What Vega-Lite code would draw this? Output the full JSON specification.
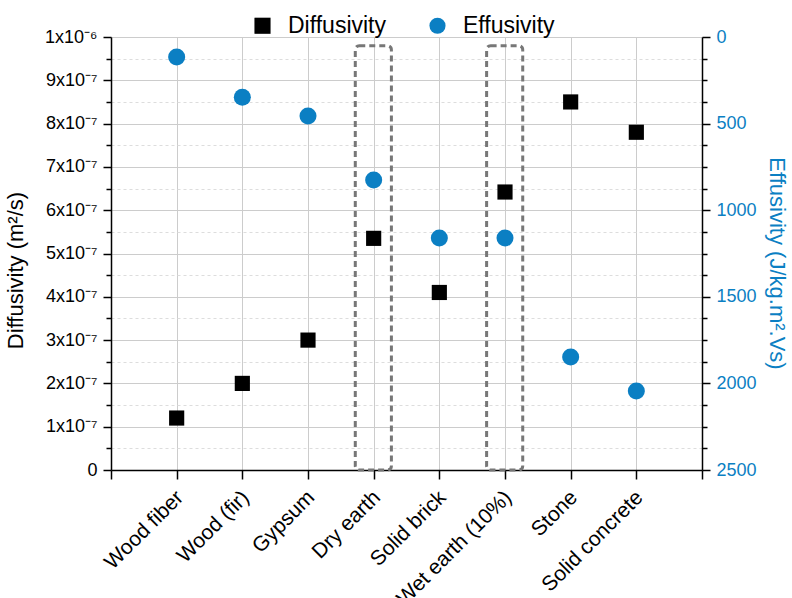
{
  "$schema": "https://vega.github.io/schema/vega-lite/v6.json",
  "width": 591,
  "height": 433,
  "autosize": {"type": "none"},
  "padding": {"left": 111, "top": 37, "right": 90, "bottom": 128},
  "background": "white",
  "config": {
    "font": "Liberation Sans",
    "view": {"stroke": null},
    "axis": {
      "domainColor": "#000000",
      "domainWidth": 1.5,
      "tickColor": "#000000",
      "tickWidth": 1.5,
      "labelFontSize": 18,
      "labelColor": "#000000",
      "titleFontSize": 22,
      "titleFontWeight": "normal",
      "titleColor": "#000000"
    }
  },
  "datasets": {
    "materials": [
      {"material": "Wood fiber", "idx": 1, "diffusivity": 1.2e-7, "effusivity": 115},
      {"material": "Wood (fir)", "idx": 2, "diffusivity": 2.0e-7, "effusivity": 348},
      {"material": "Gypsum", "idx": 3, "diffusivity": 3.0e-7, "effusivity": 456},
      {"material": "Dry earth", "idx": 4, "diffusivity": 5.35e-7, "effusivity": 826},
      {"material": "Solid brick", "idx": 5, "diffusivity": 4.1e-7, "effusivity": 1160},
      {"material": "Wet earth (10%)", "idx": 6, "diffusivity": 6.42e-7, "effusivity": 1160},
      {"material": "Stone", "idx": 7, "diffusivity": 8.5e-7, "effusivity": 1848},
      {"material": "Solid concrete", "idx": 8, "diffusivity": 7.8e-7, "effusivity": 2044}
    ],
    "boxes": [
      {"from": 3.72, "to": 4.27, "low": 0, "high": 9.8e-7},
      {"from": 5.72, "to": 6.27, "low": 0, "high": 9.8e-7}
    ]
  },
  "layer": [
    {
      "data": {"name": "boxes"},
      "mark": {"type": "rect", "fill": "transparent", "stroke": "#777777", "strokeWidth": 3, "strokeDash": [6, 4], "cornerRadius": 4},
      "encoding": {
        "x": {"field": "from", "type": "quantitative", "title": null, "scale": {"domain": [0, 9], "nice": false, "zero": false}},
        "x2": {"field": "to"},
        "y": {"field": "low", "type": "quantitative", "scale": {"domain": [0, 1e-6], "nice": false}, "axis": null},
        "y2": {"field": "high"}
      }
    },
    {
      "data": {"name": "materials"},
      "mark": {"type": "point", "filled": true, "size": 230, "opacity": 1},
      "encoding": {
        "x": {
          "field": "idx", "type": "quantitative", "title": null,
          "scale": {"domain": [0, 9], "nice": false, "zero": false},
          "axis": {
            "title": null,
            "values": [0, 0.5, 1, 1.5, 2, 2.5, 3, 3.5, 4, 4.5, 5, 5.5, 6, 6.5, 7, 7.5, 8, 8.5, 9],
            "grid": true,
            "gridColor": {"condition": {"test": "datum.value % 1 != 0", "value": "#dddddd"}, "value": "#cccccc"},
            "gridDash": {"condition": {"test": "datum.value % 1 != 0", "value": [3, 3]}, "value": []},
            "gridWidth": 1,
            "tickSize": {"condition": {"test": "datum.value % 1 != 0", "value": 5}, "value": 9},
            "labelAngle": -45,
            "labelAlign": "right",
            "labelBaseline": "middle",
            "labelFontSize": 21,
            "labelPadding": 15,
            "labelOffset": 3,
            "labelExpr": "datum.value % 1 == 0 && datum.value >= 1 && datum.value <= 8 ? ['', 'Wood fiber', 'Wood (fir)', 'Gypsum', 'Dry earth', 'Solid brick', 'Wet earth (10%)', 'Stone', 'Solid concrete'][datum.value] : ''",
            "labelOverlap": false
          }
        },
        "y": {
          "field": "diffusivity", "type": "quantitative",
          "scale": {"domain": [0, 1e-6], "nice": false},
          "axis": {
            "orient": "left",
            "title": "Diffusivity (m²/s)",
            "titlePadding": 17,
            "titleY": 233,
            "values": [0, 5e-8, 1e-7, 1.5e-7, 2e-7, 2.5e-7, 3e-7, 3.5e-7, 4e-7, 4.5e-7, 5e-7, 5.5e-7, 6e-7, 6.5e-7, 7e-7, 7.5e-7, 8e-7, 8.5e-7, 9e-7, 9.5e-7, 1e-6],
            "grid": true,
            "gridColor": {"condition": {"test": "round(datum.value*2e7) % 2 == 1", "value": "#dddddd"}, "value": "#cccccc"},
            "gridDash": {"condition": {"test": "round(datum.value*2e7) % 2 == 1", "value": [3, 3]}, "value": []},
            "tickSize": {"condition": {"test": "round(datum.value*2e7) % 2 == 1", "value": 5}, "value": 8},
            "labelPadding": 6,
            "labelExpr": "datum.value == 0 ? '0' : (round(datum.value*2e7) % 2 == 1 ? '' : (round(datum.value*1e7) == 10 ? '1x10⁻⁶' : round(datum.value*1e7) + 'x10⁻⁷'))",
            "labelOverlap": false
          }
        },
        "color": {
          "datum": "Diffusivity",
          "scale": {"domain": ["Diffusivity", "Effusivity"], "range": ["#000000", "#0b7fc3"]},
          "legend": {
            "title": null,
            "orient": "none",
            "direction": "horizontal",
            "legendX": 140,
            "legendY": -23,
            "padding": 0,
            "labelFontSize": 23,
            "labelColor": "#000000",
            "symbolSize": 260,
            "labelOffset": 14,
            "columnPadding": 40
          }
        },
        "shape": {
          "datum": "Diffusivity",
          "scale": {"domain": ["Diffusivity", "Effusivity"], "range": ["square", "circle"]}
        }
      }
    },
    {
      "data": {"name": "materials"},
      "mark": {"type": "point", "filled": true, "size": 290, "opacity": 1},
      "encoding": {
        "x": {"field": "idx", "type": "quantitative", "title": null},
        "y": {
          "field": "effusivity", "type": "quantitative",
          "scale": {"domain": [0, 2500], "nice": false, "reverse": true},
          "axis": {
            "orient": "right",
            "title": "Effusivity (J/kg.m².Vs)",
            "titleColor": "#0b7fc3",
            "titleFontSize": 22,
            "titlePadding": 8,
            "titleY": 226,
            "values": [0, 125, 250, 375, 500, 625, 750, 875, 1000, 1125, 1250, 1375, 1500, 1625, 1750, 1875, 2000, 2125, 2250, 2375, 2500],
            "grid": false,
            "tickSize": {"condition": {"test": "datum.value % 500 != 0", "value": 5}, "value": 8},
            "labelColor": "#0b7fc3",
            "labelPadding": 6,
            "labelExpr": "datum.value % 500 == 0 ? '' + datum.value : ''",
            "labelOverlap": false
          }
        },
        "color": {"datum": "Effusivity"},
        "shape": {"datum": "Effusivity"}
      }
    }
  ],
  "resolve": {"scale": {"y": "independent"}}
}
